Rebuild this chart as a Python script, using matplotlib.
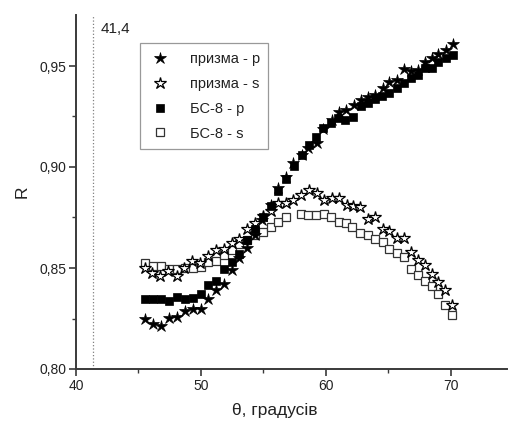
import matplotlib
matplotlib.use("Agg")
import matplotlib.pyplot as plt

plt.rcParams['font.family'] = ['Liberation Sans', 'DejaVu Sans']

# prism - p (filled stars)
x_prism_p = [45.52, 46.18, 46.80, 47.46, 48.10, 48.72, 49.34, 49.98, 50.58, 51.20,
             51.84, 52.46, 53.06, 53.70, 54.30, 54.90, 55.60, 56.20, 56.80, 57.40,
             58.05, 58.60, 59.25, 59.80, 60.45, 61.05, 61.60, 62.24, 62.78, 63.38,
             63.92, 64.54, 65.06, 65.70, 66.24, 66.80, 67.38, 67.92, 68.46, 68.98,
             69.60, 70.14]
y_prism_p = [0.8246, 0.8223, 0.8214, 0.8254, 0.8259, 0.8287, 0.8296, 0.8297, 0.8345, 0.8391,
             0.8421, 0.8490, 0.8548, 0.8598, 0.8663, 0.8738, 0.8812, 0.8896, 0.8950, 0.9018,
             0.9059, 0.9094, 0.9117, 0.9190, 0.9233, 0.9274, 0.9282, 0.9307, 0.9332, 0.9348,
             0.9356, 0.9389, 0.9422, 0.9431, 0.9484, 0.9476, 0.9480, 0.9521, 0.9538, 0.9561,
             0.9578, 0.9607]

# prism - s (open stars)
x_prism_s = [45.52, 46.12, 46.76, 47.36, 48.06, 48.64, 49.28, 49.92, 50.56, 51.20,
             51.84, 52.46, 53.06, 53.68, 54.32, 54.96, 55.60, 56.18, 56.80, 57.40,
             58.00, 58.64, 59.26, 59.86, 60.46, 61.04, 61.66, 62.18, 62.74, 63.36,
             63.92, 64.54, 65.06, 65.68, 66.22, 66.80, 67.38, 67.92, 68.46, 69.00,
             69.52, 70.12]
y_prism_s = [0.8499, 0.8475, 0.8460, 0.8485, 0.8459, 0.8500, 0.8537, 0.8525, 0.8559, 0.8589,
             0.8592, 0.8625, 0.8644, 0.8691, 0.8724, 0.8757, 0.8782, 0.8820, 0.8822, 0.8837,
             0.8861, 0.8886, 0.8870, 0.8837, 0.8845, 0.8847, 0.8812, 0.8807, 0.8803, 0.8741,
             0.8754, 0.8693, 0.8683, 0.8647, 0.8647, 0.8581, 0.8540, 0.8517, 0.8470, 0.8432,
             0.8390, 0.8318]

# BC-8 - p (filled squares)
x_bc_p = [45.52, 46.18, 46.80, 47.46, 48.10, 48.72, 49.34, 49.98, 50.58, 51.20,
          51.84, 52.46, 53.06, 53.70, 54.32, 54.94, 55.58, 56.18, 56.80, 57.44,
          58.06, 58.64, 59.20, 59.78, 60.40, 60.98, 61.56, 62.18, 62.78, 63.38,
          63.96, 64.52, 65.06, 65.66, 66.24, 66.80, 67.38, 67.92, 68.46, 68.98,
          69.60, 70.14]
y_bc_p = [0.8345, 0.8345, 0.8345, 0.8337, 0.8358, 0.8347, 0.8350, 0.8370, 0.8414, 0.8436,
          0.8494, 0.8531, 0.8569, 0.8639, 0.8693, 0.8751, 0.8807, 0.8883, 0.8940, 0.9006,
          0.9059, 0.9109, 0.9150, 0.9192, 0.9216, 0.9241, 0.9235, 0.9246, 0.9302, 0.9318,
          0.9335, 0.9350, 0.9365, 0.9390, 0.9417, 0.9439, 0.9455, 0.9489, 0.9489, 0.9521,
          0.9538, 0.9554]

# BC-8 - s (open squares)
x_bc_s = [45.52, 46.18, 46.80, 47.46, 48.10, 48.72, 49.34, 49.98, 50.58, 51.20,
          51.84, 52.46, 53.06, 53.72, 54.32, 54.98, 55.58, 56.18, 56.78, 58.00,
          58.60, 59.22, 59.82, 60.42, 61.04, 61.58, 62.10, 62.72, 63.34, 63.92,
          64.54, 65.06, 65.66, 66.24, 66.80, 67.38, 67.92, 68.46, 68.98, 69.50,
          70.06]
y_bc_s = [0.8523, 0.8510, 0.8510, 0.8494, 0.8494, 0.8499, 0.8499, 0.8506, 0.8531, 0.8535,
          0.8564, 0.8589, 0.8619, 0.8641, 0.8663, 0.8680, 0.8704, 0.8729, 0.8751, 0.8767,
          0.8762, 0.8762, 0.8767, 0.8751, 0.8730, 0.8724, 0.8701, 0.8675, 0.8663, 0.8642,
          0.8630, 0.8593, 0.8573, 0.8556, 0.8494, 0.8465, 0.8436, 0.8411, 0.8369, 0.8319,
          0.8267]

labels = ["призма - p", "призма - s", "БС-8 - p", "БС-8 - s"]
critical_angle = 41.4
critical_label = "41,4"
xticks = [40, 50, 60, 70]
yticks = [0.80, 0.85, 0.90, 0.95]
ytick_labels = ["0,80", "0,85", "0,90", "0,95"]

fig = plt.figure(figsize=(5.08, 4.28), dpi=100)
ax = fig.add_axes([76/508, 59/428, 430.6/508, 353.5/428])

spine_c = '#3a3a3a'
ax.plot(x_prism_p, y_prism_p, linestyle='none', marker='*', markersize=9,
        color='black', markeredgewidth=0.5, label=labels[0], zorder=3)
ax.plot(x_prism_s, y_prism_s, linestyle='none', marker='*', markersize=9,
        markerfacecolor='white', markeredgecolor='black', markeredgewidth=0.9,
        label=labels[1], zorder=3)
ax.plot(x_bc_p, y_bc_p, linestyle='none', marker='s', markersize=6,
        color='black', markeredgewidth=0.5, label=labels[2], zorder=3)
ax.plot(x_bc_s, y_bc_s, linestyle='none', marker='s', markersize=6,
        markerfacecolor='white', markeredgecolor='#333333', markeredgewidth=0.9,
        label=labels[3], zorder=2)

ax.axvline(critical_angle, color='#808080', linestyle=':', linewidth=0.9, zorder=1)
ax.text(42.0, 0.9685, critical_label, fontsize=11, ha='left', va='center', color='#222222')

ax.set_xlim(40, 74.45)
ax.set_ylim(0.80, 0.975)
ax.set_xticks(xticks)
ax.set_xticks([45, 55, 65], minor=True)
ax.set_yticks(yticks)
ax.set_yticklabels(ytick_labels)
ax.set_yticks([0.825, 0.875, 0.925], minor=True)

for s in ['top', 'right']:
    ax.spines[s].set_visible(False)
for s in ['left', 'bottom']:
    ax.spines[s].set_color(spine_c)
    ax.spines[s].set_linewidth(1.4)

ax.tick_params(which='major', direction='out', length=5, width=1.2, color=spine_c,
               labelsize=10, labelcolor='#222222', pad=2)
ax.tick_params(which='minor', direction='out', length=3, width=1.0, color=spine_c)

fig.text(275/508, 1 - 410/428, "θ, градусів", fontsize=12.5, color='#222222',
         ha='center', va='center')
fig.text(22/508, 1 - 192/428, "R", fontsize=12.5, color='#222222',
         ha='center', va='center', rotation=90)

leg = ax.legend(loc='upper left', bbox_to_anchor=((140-76)/430.6, (369-43)/353.5),
                borderaxespad=0, fancybox=False, edgecolor='#999999', framealpha=1,
                fontsize=10.5, handletextpad=1.2, labelspacing=0.75, borderpad=0.6,
                handlelength=1.6, numpoints=1)
leg.get_frame().set_linewidth(0.9)
for t in leg.get_texts():
    t.set_color('#222222')

fig.savefig("out.png", dpi=100)
